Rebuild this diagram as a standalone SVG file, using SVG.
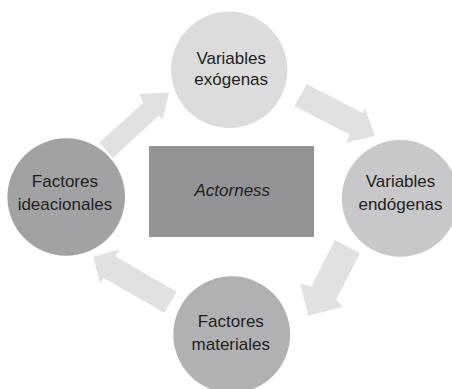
<svg xmlns="http://www.w3.org/2000/svg" width="452" height="389" viewBox="0 0 452 389">
<style>
.arrow{fill:#e1e1e3;stroke:none}
.lbl{font-family:"Liberation Sans",Arial,sans-serif;font-size:17px;fill:#231f20;text-anchor:middle}
.ital{font-style:italic}
</style>
<rect width="452" height="389" fill="#ffffff"/>
<g id="connectors">
<polygon class="arrow" points="99.3,142.7 143.3,102.7 139.3,94 169,92.5 162.7,119.3 158.3,116 112.9,157.9"/>
<polygon class="arrow" points="306.7,84 363.3,113.3 364.3,107.3 375,136 346,142.7 350,134.8 294.3,106"/>
<polygon class="arrow" points="335,240 311,286.7 300,283.3 308.3,315.7 343.3,306.7 336.2,299.5 360,253.3"/>
<polygon class="arrow" points="176.7,291.7 115.5,256.6 120,249.3 93.3,256.7 100,283.3 103.4,277.7 164.3,312.7"/>
</g>
<g id="actorness">
<rect x="149" y="146" width="165" height="91" fill="#939396"/>
<text class="lbl ital" x="232.3" y="196">Actorness</text>
</g>
<g id="variables-exogenas">
<circle cx="229.2" cy="69.8" r="58.2" fill="#dcdcdd"/>
<text class="lbl" x="231.2" y="64.3">Variables</text>
<text class="lbl" x="231.2" y="85.3">exógenas</text>
</g>
<g id="variables-endogenas">
<circle cx="400.3" cy="198.4" r="58.4" fill="#c8c8ca"/>
<text class="lbl" x="400.5" y="186.7">Variables</text>
<text class="lbl" x="400.5" y="209.7">endógenas</text>
</g>
<g id="factores-materiales">
<circle cx="231.7" cy="334.6" r="58.4" fill="#b1b1b3"/>
<text class="lbl" x="230.8" y="327.3">Factores</text>
<text class="lbl" x="230.8" y="349.7">materiales</text>
</g>
<g id="factores-ideacionales">
<circle cx="66.2" cy="197" r="58.8" fill="#a2a2a5"/>
<text class="lbl" x="64.9" y="186.7">Factores</text>
<text class="lbl" x="64.9" y="209.7">ideacionales</text>
</g>
</svg>
